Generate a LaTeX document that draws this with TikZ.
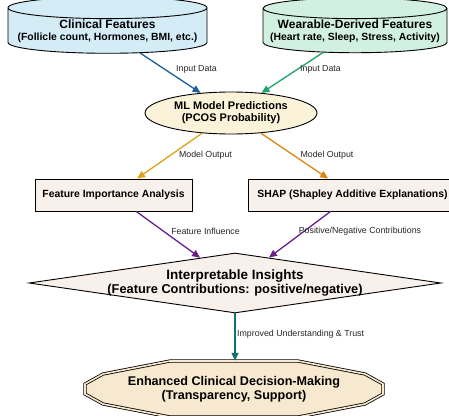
\documentclass[tikz,border=0pt]{standalone}
\usepackage{fontspec}
\setmainfont{Liberation Sans}
\usetikzlibrary{arrows.meta,positioning,shapes.geometric}

\definecolor{clinblue}{HTML}{D4ECF6}
\definecolor{weargreen}{HTML}{D2F0E2}
\definecolor{modelcream}{HTML}{FBF3D9}
\definecolor{boxrose}{HTML}{F8F0EB}
\definecolor{decisioncream}{HTML}{F7E9CF}
\definecolor{inblue}{HTML}{1C5E9C}
\definecolor{ingreen}{HTML}{1FA366}
\definecolor{outgold}{HTML}{DDA21A}
\definecolor{outorange}{HTML}{DE8414}
\definecolor{inflpurple}{HTML}{69208A}
\definecolor{trustteal}{HTML}{13706C}

\newcommand{\titleline}[1]{{\fontsize{12}{13}\selectfont #1}}

\begin{document}
\begin{tikzpicture}[
        x=1pt, y=-1pt,
        >={Triangle[length=8pt,width=7pt]},
        every node/.style={align=center},
        feat/.style={font=\bfseries\fontsize{10.4}{12}\selectfont},
        source/.style={feat, draw, line width=0.9pt, cylinder, shape border rotate=90,
            aspect=0.12, minimum height=46pt, inner sep=1pt},
        model/.style={feat, draw, line width=0.9pt, ellipse, fill=modelcream,
            minimum width=172pt, minimum height=42pt, inner sep=0pt,
            font=\bfseries\fontsize{11}{12}\selectfont},
        method/.style={feat, draw, line width=0.9pt, fill=boxrose,
            minimum width=157pt, minimum height=32pt},
        insight/.style={draw, line width=0.9pt, diamond, fill=boxrose, aspect=6.9,
            minimum width=412pt, minimum height=60pt, inner sep=-8pt,
            font=\bfseries\fontsize{12.8}{13.5}\selectfont},
        decision/.style={minimum width=297pt, minimum height=56pt, inner sep=0pt,
            font=\bfseries\fontsize{12.6}{13.5}\selectfont},
        octo/.style={draw, line width=0.8pt, double=decisioncream, double distance=1.6pt,
            fill=decisioncream, line join=miter},
        lbl/.style={font=\fontsize{8.8}{10}\selectfont, text=black!85, inner sep=1pt},
        link/.style={->, line width=1.3pt}
    ]
        \fill[white] (0,0) rectangle (449,415);
        \useasboundingbox (0,0) rectangle (449,415);

        \node[source, fill=clinblue, minimum width=199pt] (clin) at (107.5,31.5)
            {\titleline{Clinical Features}\\(Follicle count, Hormones, BMI, etc.)};
        \node[source, fill=weargreen, minimum width=184pt] (wear) at (355,31.5)
            {\titleline{Wearable-Derived Features}\\(Heart rate, Sleep, Stress, Activity)};

        \node[model] (ml) at (231,113) {ML Model Predictions\\(PCOS Probability)};

        \node[method] (fia) at (113.5,195) {Feature Importance Analysis};
        \node[method, minimum width=209pt] (shap) at (352.5,195) {SHAP (Shapley Additive Explanations)};

        \node[insight] (ins) at (235,283)
            {{\fontsize{13.5}{14}\selectfont Interpretable Insights}\\(Feature Contributions: positive/negative)};

        % octagon outline first, text node on top
        \coordinate (ecdc) at (234,389);
        \draw[octo, shift={(ecdc)}] (-64,-28) -- (64,-28) -- (131,-15) -- (149,-5) -- (149,5)
            -- (131,15) -- (64,28) -- (-64,28) -- (-131,15) -- (-149,5) -- (-149,-5)
            -- (-131,-15) -- cycle;
        \node[decision] (ecd) at (ecdc)
            {Enhanced Clinical Decision-Making\\(Transparency, Support)};

        \draw[link, inblue] (clin) -- (ml);
        \draw[link, ingreen] (wear) -- (ml);
        \draw[link, outgold] (ml) -- (fia);
        \draw[link, outorange] (ml) -- (shap);
        \draw[link, inflpurple] (fia) -- (ins);
        \draw[link, inflpurple] (shap) -- (ins);
        \draw[link, trustteal] (ins.south) -- (ins.south |- ecd.north);

        \node[lbl] (l1) at (196.5,69) {Input Data};
        \node[lbl] (l2) at (320.5,69) {Input Data};
        \node[lbl] (l3) at (205.5,155) {Model Output};
        \node[lbl] (l4) at (327,155) {Model Output};
        \node[lbl] (l5) at (205.5,231) {Feature Influence};
        \node[lbl] (l6) at (360,231) {Positive/Negative Contributions};
        \node[lbl, anchor=west] (l7) at (236,334) {Improved Understanding \& Trust};
    \end{tikzpicture}
\end{document}
